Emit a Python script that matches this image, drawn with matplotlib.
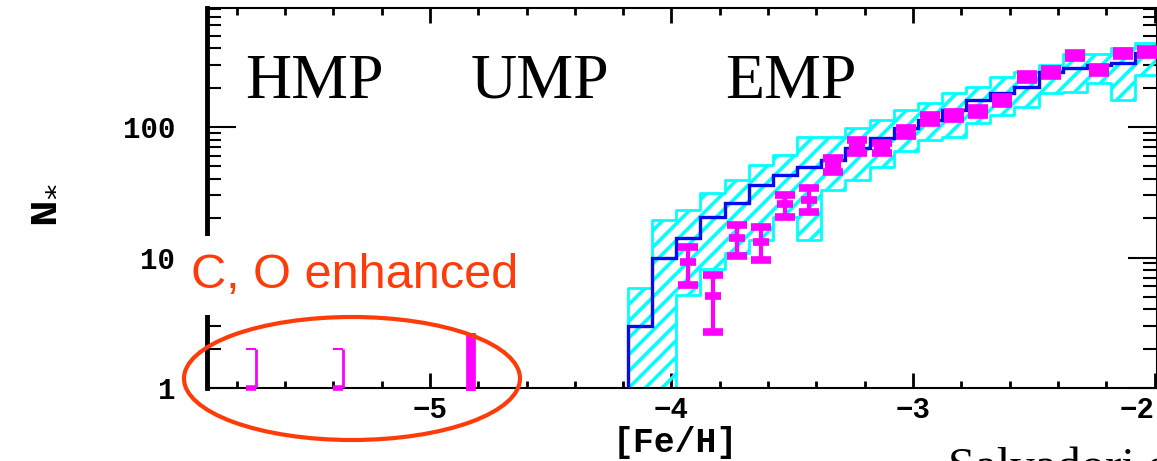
import numpy as np
import matplotlib
matplotlib.use("Agg")
import matplotlib.pyplot as plt
from matplotlib.patches import Ellipse
from matplotlib.ticker import MultipleLocator, NullFormatter, LogLocator

# metallicity bins (0.1 dex)
bin_edges = [-4.18, -4.08, -3.98, -3.88, -3.78, -3.68, -3.58, -3.48, -3.38, -3.28, -3.18,
             -3.08, -2.98, -2.88, -2.78, -2.68, -2.58, -2.48, -2.38, -2.28, -2.18, -2.08, -1.98]

# model mean (blue steps)
model_mean = [3.0, 10, 14, 20.5, 26, 36, 43, 49, 56, 69, 82, 98, 113, 134, 161, 183, 202,
              264, 284, 298, 310, 370]
# model 1-sigma band (cyan hatched)
band_hi = [5.8, 19.5, 23, 31, 39, 51, 61, 84, 84, 98, 113, 135, 153, 182, 201, 240, 262,
           297, 366, 366, 400, 437]
band_lo = [0.5, 0.5, 5.2, 8.1, 10.9, 13.7, 20.5, 13.7, 33, 39, 49, 66, 79, 84, 107, 123,
           142, 181, 184, 216, 160, 250]

# observed counts (magenta) in bins 2..21
obs_feh = [-3.93, -3.83, -3.73, -3.63, -3.53, -3.43, -3.33, -3.23, -3.13, -3.03, -2.93,
           -2.83, -2.73, -2.63, -2.53, -2.43, -2.33, -2.23, -2.13, -2.03]
obs_n = [9.3, 5.1, 14.2, 13.2, 25.8, 27.8, 51, 70, 69, 92, 115, 123, 132, 160, 241, 262,
         355, 272, 366, 375]
obs_lo = [6.2, 2.7, 10.2, 9.5, 20.5, 22.4, 45, 63, 63, 85, 107, 115, 124, 150, 228, 248,
          338, 258, 348, 357]
obs_hi = [12.1, 7.4, 17.9, 17.2, 30.2, 34, 58, 79, 76, 99, 124, 131, 140, 170, 255, 277,
          372, 287, 384, 393]

# single hyper / ultra metal-poor stars
hmp_feh = [-5.72, -5.36]
hmp_top = [2.0, 2.0]
ump_feh = [-4.83]
ump_top = [2.65]

x_ticks = [-5, -4, -3, -2]
x_ticklabels = ['\u22125', '\u22124', '\u22123', '\u22122']
y_ticks = [1, 10, 100]
y_ticklabels = ['1', '10', '100']

W, H = 1157, 461
fig = plt.figure(figsize=(W / 100, H / 100), dpi=100)
ax = fig.add_axes([207 / W, 73 / H, 950 / W, 380 / H])
ax.set_yscale('log')
ax.set_xlim(-5.923, -1.99)
ax.set_ylim(1, 817)

plt.rcParams['hatch.linewidth'] = 2.5
plt.rcParams['hatch.color'] = '#00ffff'

# cyan band
lo_ext = band_lo + [band_lo[-1]]
hi_ext = band_hi + [band_hi[-1]]
ax.fill_between(bin_edges, lo_ext, hi_ext, step='post', facecolor='none',
                edgecolor='#00ffff', hatch='//', linewidth=2, zorder=2)

# model mean
ax.stairs(model_mean, bin_edges, baseline=0.1, color='#0a0aee', linewidth=2.4, zorder=3)

# observed points
obs_n_a = np.array(obs_n)
yerr = [obs_n_a - np.array(obs_lo), np.array(obs_hi) - obs_n_a]
ax.errorbar(obs_feh, obs_n, yerr=yerr, fmt='_', color='#ff00ff', ms=11, mew=5.5,
            elinewidth=3, capsize=7, capthick=2, zorder=4)

# single stars at N = 1
ax.vlines(hmp_feh, 1, hmp_top, color='#ff00ff', linewidth=2, zorder=4)
ax.hlines(hmp_top, np.array(hmp_feh) - 0.04, hmp_feh, color='#ff00ff', linewidth=1.5, zorder=4)
ax.hlines([1, 1], np.array(hmp_feh) - 0.04, hmp_feh, color='#ff00ff', linewidth=4, zorder=4,
          clip_on=False)
ax.vlines(ump_feh, 0.95, ump_top, color='#ff00ff', linewidth=7, zorder=4, clip_on=False)

# axes styling
for side in ['top', 'bottom', 'right']:
    ax.spines[side].set_linewidth(1.5)
ax.spines['left'].set_linewidth(3.5)

ax.set_xticks(x_ticks)
ax.set_xticklabels(x_ticklabels)
ax.xaxis.set_minor_locator(MultipleLocator(0.2))
ax.set_yticks(y_ticks)
ax.set_yticklabels(y_ticklabels)
ax.yaxis.set_minor_locator(LogLocator(base=10, subs=np.arange(2, 10)))
ax.yaxis.set_minor_formatter(NullFormatter())

ax.tick_params(which='both', direction='in', top=True, right=True)
ax.tick_params(axis='x', which='major', length=11, width=2, pad=6)
ax.tick_params(axis='x', which='minor', length=5, width=2)
ax.tick_params(axis='y', which='major', length=21, width=1.5, pad=23)
ax.tick_params(axis='y', which='minor', length=10, width=1.5)
for lab in ax.get_xticklabels() + ax.get_yticklabels():
    lab.set_fontfamily('Liberation Mono')
    lab.set_fontweight('bold')
    lab.set_fontsize(21)
# last label sits at the right edge of the figure
ax.get_xticklabels()[-1].set_horizontalalignment('right')

ax.set_xlabel('[Fe/H]', fontfamily='Liberation Mono', fontweight='bold', fontsize=25)
ax.xaxis.set_label_coords((675 - 207) / 950, (388 - 426) / 380)
fig.text(42 / W, 1 - 205 / H, 'N$_{*}$', rotation=90, ha='center', va='center',
         fontfamily='Liberation Mono', fontweight='bold', fontsize=32)

# region labels
for txt, xp in [('HMP', 245), ('UMP', 471), ('EMP', 725)]:
    fig.text(xp / W, 1 - 98 / H, txt, fontfamily='Liberation Serif', fontsize=46,
             ha='left', va='baseline', color='black')

fig.text(191 / W, 1 - 288 / H, 'C, O enhanced', fontfamily='Liberation Sans', fontsize=35,
         color='#ff3b0a', ha='left', va='baseline', zorder=10,
         bbox=dict(boxstyle='square,pad=0.35', facecolor='white', edgecolor='none'))

fig.patches.append(Ellipse((352 / W, 1 - 378.5 / H), 336 / W, 123 / H,
                           transform=fig.transFigure, fill=False, edgecolor='#ff3b0a',
                           linewidth=3, zorder=11))

# citation, cut off by the lower edge as in the slide
fig.text(948 / W, 1 - 481 / H, 'Salvadori et al. 2007', fontfamily='Liberation Serif',
         fontsize=35, ha='left', va='baseline')

fig.savefig('out.png', dpi=100)
